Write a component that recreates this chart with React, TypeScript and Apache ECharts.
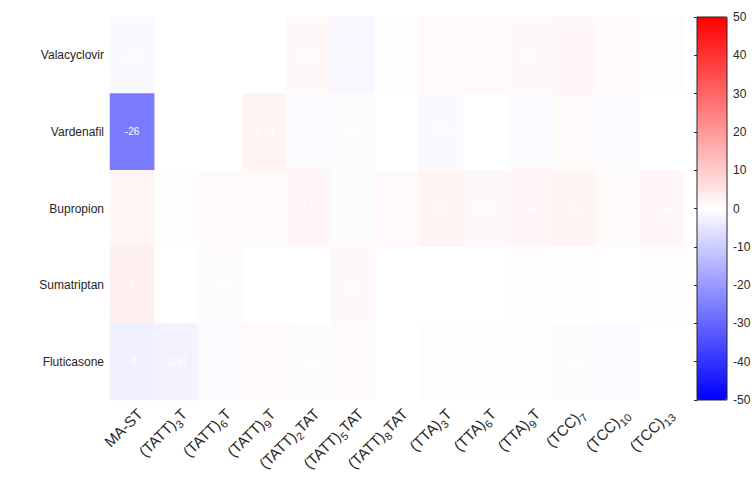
import React, { useEffect, useRef } from "react";
import * as echarts from "echarts";

const rows = ["Valacyclovir", "Vardenafil", "Bupropion", "Sumatriptan", "Fluticasone"];
const cols = [
  "MA-ST", "(TATT)3T", "(TATT)6T", "(TATT)9T", "(TATT)2TAT", "(TATT)5TAT", "(TATT)8TAT",
  "(TTA)3T", "(TTA)6T", "(TTA)9T", "(TCC)7", "(TCC)10", "(TCC)13",
];
const colLabels = [
  "MA-ST", "(TATT){s|3}T", "(TATT){s|6}T", "(TATT){s|9}T", "(TATT){s|2}TAT", "(TATT){s|5}TAT",
  "(TATT){s|8}TAT", "(TTA){s|3}T", "(TTA){s|6}T", "(TTA){s|9}T", "(TCC){s|7}", "(TCC){s|10}", "(TCC){s|13}",
];
const valacyclovir = [-1.2, null, null, null, 1.47, -1.6, 0.4, 1.1, 1.27, 1.4, 1.5, 1.2, 0.6];
const vardenafil = [-26, null, null, 2.29, -1.0, -0.6, null, -1.2, null, -1.01, 1.0, -1.0, null];
const bupropion = [2.0, 0.5, 1.2, 1.07, 1.5, -0.5, 1.2, 2.1, 1.44, 1.52, 2.1, 0.8, 1.66];
const sumatriptan = [3.0, null, -0.6, null, null, 1.3, null, null, null, 0.3, 0.3, null, 0.3];
const fluticasone = [-3.0, -2.31, -0.8, 1.16, -0.5, 1.07, null, -0.4, -0.4, -0.4, -0.5, -1.0, null];
const colorTicks = [-50, -40, -30, -20, -10, 0, 10, 20, 30, 40, 50];

const table = [valacyclovir, vardenafil, bupropion, sumatriptan, fluticasone];

export default function App() {
  const ref = useRef<HTMLDivElement>(null);
  useEffect(() => {
    if (!ref.current) return;
    const chart = echarts.init(ref.current, null, { renderer: "svg" });
    const data: any[] = [];
    table.forEach((row, r) => {
      row.forEach((v, c) => {
        if (v !== null) data.push([c, r, v]);
      });
    });
    const font = "Liberation Sans, Arial, sans-serif";
    const gTop = 17;
    const gH = 383;
    chart.setOption({
      animation: false,
      backgroundColor: "#ffffff",
      grid: [
        { left: 110, right: 72, top: gTop, height: gH },
        { left: 697, width: 30, top: gTop, height: gH },
      ],
      xAxis: [
        {
          type: "category",
          data: cols,
          gridIndex: 0,
          axisLine: { show: false },
          axisTick: { show: false },
          splitLine: { show: false },
          axisLabel: {
            rotate: 45,
            interval: 0,
            fontSize: 15,
            fontFamily: font,
            color: "#262626",
            margin: 19,
            padding: [0, -11, 0, 0],
            formatter: (_v: string, i: number) => colLabels[i],
            rich: {
              s: { fontSize: 11, fontFamily: font, color: "#262626", padding: [12, 0, 0, 0] },
            },
          },
        },
        { type: "value", gridIndex: 1, show: false, min: 0, max: 1 },
      ],
      yAxis: [
        {
          type: "category",
          data: rows,
          inverse: true,
          gridIndex: 0,
          axisLine: { show: false },
          axisTick: { show: false },
          splitLine: { show: false },
          axisLabel: { fontSize: 12, fontFamily: font, color: "#262626", margin: 6 },
        },
        {
          type: "value",
          gridIndex: 1,
          position: "right",
          min: colorTicks[0],
          max: colorTicks[colorTicks.length - 1],
          interval: 10,
          axisLine: { show: true, lineStyle: { color: "#262626", width: 1 } },
          axisTick: { show: true, inside: true, length: 3, lineStyle: { color: "#262626" } },
          splitLine: { show: false },
          axisLabel: { fontSize: 12, fontFamily: font, color: "#262626", margin: 6 },
        },
      ],
      visualMap: {
        type: "continuous",
        min: -50,
        max: 50,
        seriesIndex: 0,
        calculable: false,
        orient: "vertical",
        left: 697,
        top: gTop,
        padding: 0,
        itemWidth: 30,
        itemHeight: gH,
        text: ["", ""],
        showLabel: false,
        inRange: { color: ["#0000ff", "#ffffff", "#ff0000"] },
      },
      graphic: [
        {
          type: "rect",
          shape: { x: 697, y: gTop, width: 30, height: gH },
          style: { fill: "none", stroke: "#262626", lineWidth: 1 },
          z: 100,
        },
      ],
      series: [
        {
          type: "heatmap",
          xAxisIndex: 0,
          yAxisIndex: 0,
          data,
          label: {
            show: true,
            color: "#ffffff",
            fontSize: 10,
            fontFamily: font,
            formatter: (p: any) => String(p.value[2]),
          },
          itemStyle: { borderWidth: 0 },
          emphasis: { disabled: true },
        },
      ],
    });
    return () => chart.dispose();
  }, []);
  return <div ref={ref} style={{ width: 756, height: 479, position: "absolute", left: 0, top: 0 }} />;
}
